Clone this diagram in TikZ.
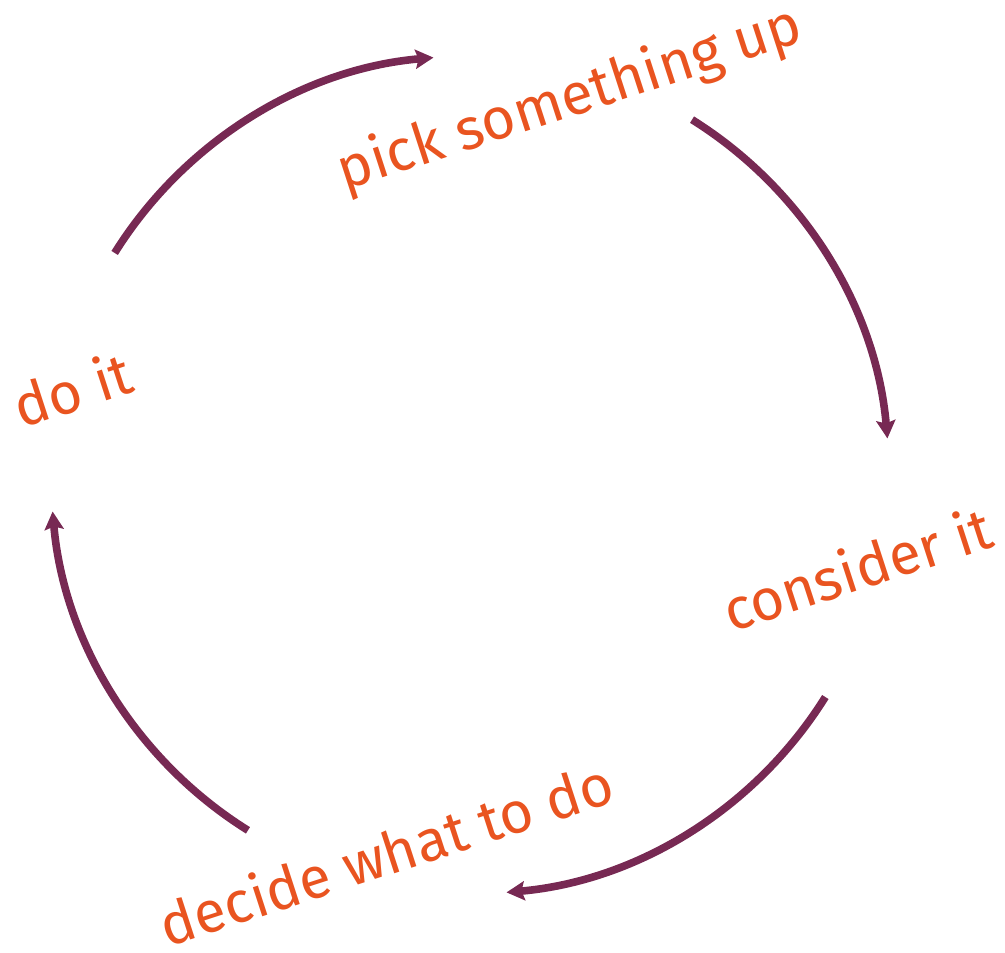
\documentclass[tikz,border=0pt]{standalone}
\usepackage{fontspec}
\setmainfont{Fira Sans}
\usetikzlibrary{arrows.meta}
\definecolor{aubergine}{HTML}{772953}
\definecolor{ubuorange}{HTML}{E95420}
\begin{document}
\begin{tikzpicture}[x=0.5pt,y=0.5pt,
  cyc/.style={draw=aubergine,line width=3.8pt,-{Stealth[length=9pt,width=9.5pt,inset=1.5pt]}},
  lbl/.style={text=ubuorange,font=\fontsize{29}{34}\selectfont,rotate=18,inner sep=0pt}]
\useasboundingbox (0,0) rectangle (1005,952);
\coordinate (c) at (470,477);
\node[lbl] (pick) at (570,852) {pick something up};
\node[lbl] (consider) at (857,384) {consider it};
\node[lbl] (decide) at (386,99) {decide what to do};
\node[lbl] (doit) at (72,563) {do it};
\draw[cyc] (c) ++(148:419) arc[start angle=148,end angle=95,radius=419];
\draw[cyc] (c) ++(58:419) arc[start angle=58,end angle=5,radius=419];
\draw[cyc] (c) ++(328:419) arc[start angle=328,end angle=275,radius=419];
\draw[cyc] (c) ++(238:419) arc[start angle=238,end angle=185,radius=419];
\end{tikzpicture}
\end{document}
